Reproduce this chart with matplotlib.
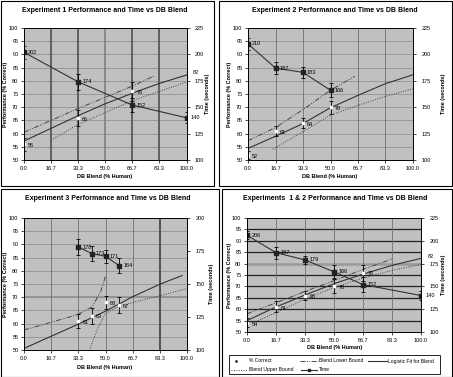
import matplotlib
matplotlib.use('Agg')
import matplotlib.pyplot as plt
from matplotlib.lines import Line2D
from matplotlib.patches import Rectangle

plt.rcParams['font.family'] = ['Liberation Sans', 'DejaVu Sans']

W, H = 453, 377

# ---------------- data ----------------
# Experiment 1
e1_x = [0.0, 33.3, 66.7]
e1_pc = [56, 66, 76]
e1_pc_err = [2.5, 3.0, 3.5]
e1_tx = [0.0, 33.3, 66.7, 100.0]
e1_time = [202, 174, 152, 140]
e1_time_err = [6, 7.5, 7, 5]
e1_fit_x = [0, 16.7, 33.3, 50, 66.7, 83.3, 100]
e1_fit = [57.2, 62.0, 66.8, 71.3, 75.3, 79.0, 82.2]
e1_low_x = [0, 33.3, 66.7, 80]
e1_low = [60.5, 69.5, 78.0, 81.8]
e1_up_x = [16.7, 33.3, 66.7, 100]
e1_up = [57.5, 63.5, 72.5, 79.5]

# Experiment 2
e2_x = [0.0, 16.7, 33.3, 50.0]
e2_pc = [52, 61, 64, 70]
e2_pc_err = [1.5, 2.0, 2.0, 2.5]
e2_time = [210, 187, 183, 166]
e2_time_err = [6, 6, 5, 6.5]
e2_fit_x = [0, 16.7, 33.3, 50, 66.7, 83.3, 100]
e2_fit = [54.4, 59.0, 63.8, 69.8, 74.5, 78.9, 82.3]
e2_low_x = [0, 16.7, 33.3, 50, 64.7]
e2_low = [57.3, 62.3, 69.1, 76.4, 81.7]
e2_up_x = [15, 33.3, 50, 66.7, 83.3, 100]
e2_up = [54.1, 60.7, 67.0, 70.7, 74.1, 77.0]

# Experiment 3
e3_x = [33.3, 41.7, 50.0, 58.3]
e3_pc = [61, 63, 68, 67]
e3_pc_err = [2.7, 3.0, 2.6, 3.1]
e3_time = [178, 173, 171, 164]
e3_time_err = [6, 5.5, 5, 6]
e3_fit_x = [0, 33.3, 50, 66.7, 83.3, 97]
e3_fit = [50.6, 59.8, 64.7, 70.2, 74.9, 78.2]
e3_low_x = [0, 16.7, 33.3, 41.7, 47, 50]
e3_low = [57.6, 60.5, 63.5, 66.3, 72.0, 78.0]
e3_up_x = [40.6, 45, 50, 58.3, 66.7, 83.3, 100]
e3_up = [50.5, 58.0, 63.8, 66.5, 68.0, 70.5, 73.3]

# Experiments 1 & 2
e4_x = [0.0, 16.7, 33.3, 50.0, 66.7]
e4_pc = [54, 61, 66, 70, 76]
e4_pc_err = [2.0, 2.4, 1.8, 3.1, 3.6]
e4_tx = [0.0, 16.7, 33.3, 50.0, 66.7, 100.0]
e4_time = [206, 187, 179, 166, 152, 140]
e4_time_err = [4.5, 6.5, 4, 7, 8.5, 5]
e4_fit_x = [0, 16.7, 33.3, 50, 66.7, 83.3, 100]
e4_fit = [55.0, 61.0, 66.2, 71.2, 75.4, 79.2, 82.3]
e4_low_x = [0, 16.7, 33.3, 50, 66.7, 83.3]
e4_low = [58.0, 62.8, 67.8, 72.5, 77.5, 82.0]
e4_up_x = [5, 16.7, 33.3, 50, 66.7, 83.3, 100]
e4_up = [54.5, 58.5, 64.5, 69.5, 73.7, 77.0, 79.7]

xticks = [0.0, 16.7, 33.3, 50.0, 66.7, 83.3, 100.0]
xtick_labels = ['0.0', '16.7', '33.3', '50.0', '66.7', '83.3', '100.0']

titles = ['Experiment 1 Performance and Time vs DB Blend',
          'Experiment 2 Performance and Time vs DB Blend',
          'Experiment 3 Performance and Time vs DB Blend',
          'Experiments  1 & 2 Performance and Time vs DB Blend']

BG = '#c0c0c0'
LC = '#333333'
FS = 4
DASHDOT = (5, 1.5, 1, 1.5, 1, 1.5)
DOTTED = (1, 1.5)


def fax(x0, y0, x1, y1):
    return [x0 / W, 1 - y1 / H, (x1 - x0) / W, (y1 - y0) / H]


def fx(x):
    return x / W


def fy(y):
    return 1 - y / H


def panel(fig, box, tlim, tticks):
    ax = fig.add_axes(box)
    ax.set_facecolor(BG)
    ax.set_xlim(0, 100)
    ax.set_ylim(50, 100)
    ax.set_xticks(xticks)
    ax.set_xticklabels(xtick_labels)
    ax.set_yticks(range(50, 101, 5))
    ax.tick_params(labelsize=FS, length=2, width=0.5, pad=2)
    for s in ax.spines.values():
        s.set_linewidth(0.6)
    ax2 = ax.twinx()
    ax2.set_ylim(*tlim)
    ax2.set_yticks(tticks)
    ax2.tick_params(labelsize=FS, length=2, width=0.5, pad=4)
    for s in ax2.spines.values():
        s.set_linewidth(0.6)
    ax.set_axisbelow(True)
    return ax, ax2


def series(ax, ax2, px, pc, pc_err, tx, tm, tm_err, fitx, fity, lx, ly, ux, uy):
    ax.plot(lx, ly, color='#444444', lw=0.7, dashes=DASHDOT)
    ax.plot(ux, uy, color='#444444', lw=0.7, dashes=DOTTED)
    ax.plot(fitx, fity, color=LC, lw=0.8)
    ax.errorbar(px, pc, yerr=pc_err, fmt='none', ecolor='black', elinewidth=0.6,
                capsize=1.5, capthick=0.6)
    ax.plot(px, pc, 'o', color='white', ms=1.6, mec='white')
    for x, v in zip(px, pc):
        ax.text(x + 2.5, v - 0.5, str(v), fontsize=FS, va='center', ha='left')
    ax2.errorbar(tx, tm, yerr=tm_err, fmt='none', ecolor='black', elinewidth=0.6,
                 capsize=1.5, capthick=0.6)
    ax2.plot(tx, tm, '-s', color=LC, lw=0.8, ms=2.2, mfc='#222222', mec='#222222')
    for x, v in zip(tx, tm):
        ax2.text(x + 2.5, v, str(v), fontsize=FS, va='center', ha='left', clip_on=False)


fig = plt.figure(figsize=(W / 100, H / 100), dpi=100)

# panel frames
for (x0, y0, x1, y1) in [(0.5, 0.5, 214, 186), (219, 0.5, 452, 186),
                         (0.5, 189, 219, 376.5), (222, 189, 452, 376.5)]:
    fig.patches.append(Rectangle((fx(x0), fy(y1)), (x1 - x0) / W, (y1 - y0) / H,
                                 transform=fig.transFigure, fill=False,
                                 edgecolor='black', lw=0.8))

# ---- panel 1
ax, ax2 = panel(fig, fax(24, 28, 186.5, 160), (100, 225), [100, 125, 150, 175, 200, 225])
for y in range(55, 100, 5):
    ax.axhline(y, color='#8a8a8a', lw=0.5, zorder=0)
for x in [16.7, 33.3, 66.7, 83.3]:
    ax.axvline(x, color='#606060', lw=1.4, zorder=0)
ax.axvline(50, color='#808080', lw=1.2, zorder=0)
series(ax, ax2, e1_x, e1_pc, e1_pc_err, e1_tx, e1_time, e1_time_err,
       e1_fit_x, e1_fit, e1_low_x, e1_low, e1_up_x, e1_up)
ax.text(104, e1_fit[-1] + 0.8, '82', fontsize=FS, va='center', ha='left', clip_on=False)

# ---- panel 2
ax, ax2 = panel(fig, fax(248, 28, 413, 160), (100, 225), [100, 125, 150, 175, 200, 225])
for y in range(55, 100, 5):
    ax.axhline(y, color='#8a8a8a', lw=0.5, zorder=0)
for x in xticks[1:-1]:
    ax.axvline(x, color='#707070', lw=0.6, zorder=0)
series(ax, ax2, e2_x, e2_pc, e2_pc_err, e2_x, e2_time, e2_time_err,
       e2_fit_x, e2_fit, e2_low_x, e2_low, e2_up_x, e2_up)

# ---- panel 3
ax, ax2 = panel(fig, fax(24, 218, 187, 350), (100, 200), [100, 125, 150, 175, 200])
for y in range(55, 100, 5):
    ax.axhline(y, color='#8a8a8a', lw=0.5, zorder=0)
ax.axhline(70, color='#909090', lw=1.2, zorder=0)
for x in [16.7, 33.3, 50.0, 66.7]:
    ax.axvline(x, color='#707070', lw=0.6, zorder=0)
ax.axvline(83.3, color='#505050', lw=1.4, zorder=0)
series(ax, ax2, e3_x, e3_pc, e3_pc_err, e3_x, e3_time, e3_time_err,
       e3_fit_x, e3_fit, e3_low_x, e3_low, e3_up_x, e3_up)

# ---- panel 4
ax, ax2 = panel(fig, fax(247, 218, 421, 332), (100, 225), [100, 125, 150, 175, 200, 225])
for y in range(55, 100, 5):
    if y == 80:
        ax.axhline(y, color='#9a9a9a', lw=1.8, zorder=0)
    else:
        ax.axhline(y, color='#222222', lw=0.9, zorder=0)
for x in xticks[1:-1]:
    ax.axvline(x, color='#707070', lw=0.6, zorder=0)
series(ax, ax2, e4_x, e4_pc, e4_pc_err, e4_tx, e4_time, e4_time_err,
       e4_fit_x, e4_fit, e4_low_x, e4_low, e4_up_x, e4_up)
ax.text(104, e4_fit[-1] + 0.8, '82', fontsize=FS, va='center', ha='left', clip_on=False)

# ---- titles and axis labels
title_pos = [(105, 10), (335, 10), (108, 199), (335, 199)]
for t, (x, y) in zip(titles, title_pos):
    fig.text(fx(x), fy(y), t, fontsize=5, fontweight='bold', ha='center', va='center')

xlab_pos = [(105, 177), (330, 177), (105, 367), (335, 348)]
for (x, y) in xlab_pos:
    fig.text(fx(x), fy(y), 'DB Blend (% Human)', fontsize=FS, fontweight='bold',
             ha='center', va='center')

ylab_pos = [(6, 94), (229, 94), (6, 284), (229, 275)]
for (x, y) in ylab_pos:
    fig.text(fx(x), fy(y), 'Performance (% Correct)', fontsize=FS, fontweight='bold',
             ha='center', va='center', rotation=90)

tlab_pos = [(208, 94), (443, 94), (211, 284), (443, 275)]
for (x, y) in tlab_pos:
    fig.text(fx(x), fy(y), 'Time (seconds)', fontsize=FS, fontweight='bold',
             ha='center', va='center', rotation=90)

# ---- legend (laid out by hand, rows like the original)
fig.patches.append(Rectangle((fx(229), fy(374)), 211 / W, 19 / H, transform=fig.transFigure,
                             fill=True, facecolor='white', edgecolor='black', lw=0.6))
LFS = 3.6
r1, r2 = 361, 369.5
# % Correct
fig.lines.append(Line2D([fx(236)], [fy(r1)], ls='none', marker='o', ms=1.0,
                        color='#333333', transform=fig.transFigure))
fig.text(fx(249), fy(r1), '% Correct', fontsize=LFS, va='center', ha='left')
# Blend Lower Bound
fig.lines.append(Line2D([fx(300), fx(318)], [fy(r1), fy(r1)], color='#444444', lw=0.7,
                        dashes=DASHDOT, transform=fig.transFigure))
fig.text(fx(319), fy(r1), 'Blend Lower Bound', fontsize=LFS, va='center', ha='left')
# Logistic Fit for Blend
fig.lines.append(Line2D([fx(368), fx(387)], [fy(r1), fy(r1)], color=LC, lw=0.8,
                        transform=fig.transFigure))
fig.text(fx(388), fy(r1), 'Logistic Fit for Blend', fontsize=LFS, va='center', ha='left')
# Blend Upper Bound
fig.lines.append(Line2D([fx(231), fx(248)], [fy(r2), fy(r2)], color='#444444', lw=0.7,
                        dashes=DOTTED, transform=fig.transFigure))
fig.text(fx(249), fy(r2), 'Blend Upper Bound', fontsize=LFS, va='center', ha='left')
# Time
fig.lines.append(Line2D([fx(301), fx(317)], [fy(r2), fy(r2)], color=LC, lw=0.8,
                        transform=fig.transFigure))
fig.lines.append(Line2D([fx(309)], [fy(r2)], ls='none', marker='s', ms=1.6, color='#222222',
                        transform=fig.transFigure))
fig.text(fx(319), fy(r2), 'Time', fontsize=LFS, va='center', ha='left')

fig.savefig('out.png', dpi=100)
